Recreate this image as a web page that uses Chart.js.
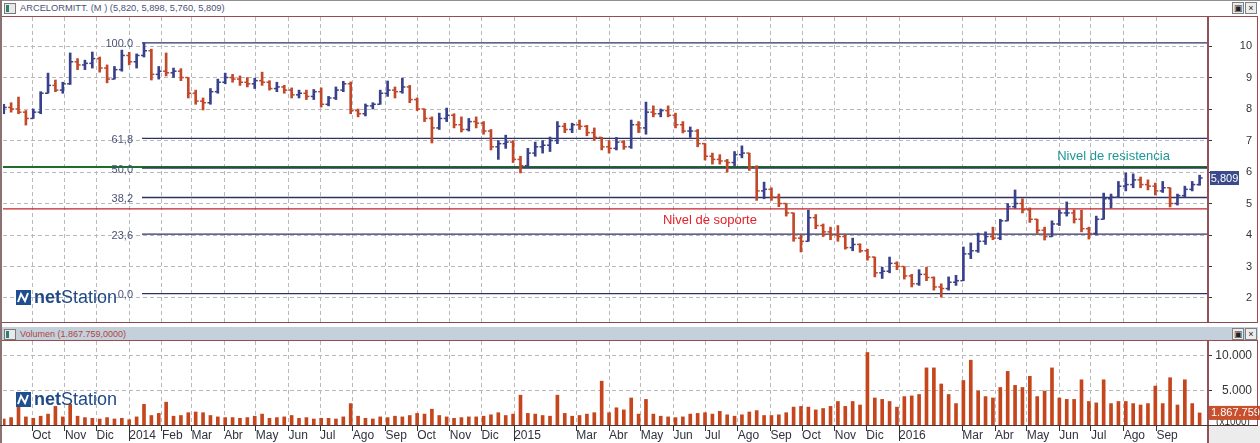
<!DOCTYPE html>
<html>
<head>
<meta charset="utf-8">
<title>ARCELORMITT.</title>
<script src="https://cdn.jsdelivr.net/npm/chart.js@4.4.1/dist/chart.umd.min.js"></script>
<style>
  body { margin: 0; background: #fff; font-family: "Liberation Sans", Arial, sans-serif; }
  #wrap { position: relative; width: 1260px; height: 443px; overflow: hidden; background: #fff; }
  #wrap div, #wrap canvas { position: absolute; }
  .hdr { font-size: 9.3px; line-height: 12px; white-space: nowrap; }
  .win { width: 10px; height: 9px; border: 1px solid #7a7a7a; background: #e9e9e9; }
  .win i { position: absolute; left: 1px; top: 1px; width: 3px; height: 7px; background: #2f7f72; }
  .btn { width: 10px; height: 10px; border: 1px solid #808080; background: #ececec; font-size: 9px; line-height: 10px; text-align: center; color: #222; }
  .logo { font-size: 18px; line-height: 18px; color: #1f4a87; white-space: nowrap; }
  .logo svg { vertical-align: -2px; margin-right: 3px; }
</style>
</head>
<body>
<div id="wrap">
  <!-- price pane header -->
  <div style="left:0;top:0;width:1260px;height:1px;background:#8f8f8f"></div>
  <div class="win" style="left:4px;top:3px"><i></i></div>
  <div class="hdr" style="left:20px;top:2px;color:#4b5376">ARCELORMITT. (M ) (5,820, 5,898, 5,760, 5,809)</div>
  <div class="btn" style="left:1232px;top:2px">&#9635;</div>
  <div class="btn" style="left:1245px;top:2px">&#215;</div>
  <div style="left:0;top:16px;width:1258px;height:1px;background:#9b4b50"></div>

  <canvas id="price" width="1260" height="305" style="left:0;top:17px"></canvas>

  <!-- volume pane header -->
  <div style="left:0;top:322px;width:1258px;height:1px;background:#8a4a50"></div>
  <div style="left:2px;top:327px;width:1256px;height:13px;background:#c4d0dc;border-bottom:1px solid #9b4b50"></div>
  <div class="win" style="left:4px;top:329px"><i></i></div>
  <div class="hdr" style="left:20px;top:328px;font-size:9px;color:#b0463a" id="volTitle"></div>
  <div class="btn" style="left:1232px;top:328px">&#9635;</div>
  <div class="btn" style="left:1245px;top:328px">&#215;</div>

  <canvas id="vol" width="1260" height="102" style="left:0;top:341px"></canvas>

  <!-- frame lines -->
  <div style="left:0;top:0;width:2px;height:443px;background:#8a7272"></div>
  <div style="left:1207px;top:17px;width:2px;height:305px;background:#93505a"></div>
  <div style="left:1257px;top:16px;width:1px;height:307px;background:#9b4b50"></div>
  <div style="left:1207px;top:341px;width:2px;height:102px;background:#93505a"></div>
  <div style="left:1257px;top:340px;width:1px;height:86px;background:#9b4b50"></div>
  <div style="left:0;top:425px;width:1258px;height:1px;background:#4a3434"></div>
  <div style="left:1209px;top:426px;width:51px;height:17px;background:#ececec"></div>

  <!-- watermark logos -->
  <div class="logo" style="left:16px;top:288px"><svg width="15" height="15"><rect width="15" height="15" fill="#1f4f90"/><polyline points="2,12 5,4 9,11 12,3" stroke="#fff" stroke-width="2" fill="none"/></svg><b>net</b>Station</div>
  <div class="logo" style="left:16px;top:390px"><svg width="15" height="15"><rect width="15" height="15" fill="#1f4f90"/><polyline points="2,12 5,4 9,11 12,3" stroke="#fff" stroke-width="2" fill="none"/></svg><b>net</b>Station</div>
</div>

<script>
// weekly bars, week 0 = 2 Sep 2013
const opens = [7.95, 8.05, 8.0, 7.9, 7.7, 7.9, 8.5, 8.75, 8.6, 8.8,
  9.5, 9.4, 9.45, 9.6, 9.3, 8.95, 9.25, 9.7, 9.5, 9.7,
  9.85, 9.1, 9.2, 9.15, 9.2, 9.0, 8.5, 8.25, 8.2, 8.55,
  8.85, 9.0, 8.95, 8.85, 8.8, 8.9, 8.85, 8.65, 8.7, 8.6,
  8.45, 8.5, 8.4, 8.55, 8.15, 8.35, 8.6, 8.8, 7.95, 7.85,
  8.1, 8.15, 8.5, 8.6, 8.55, 8.7, 8.3, 8.0, 7.7, 7.4,
  7.7, 7.8, 7.5, 7.35, 7.6, 7.55, 7.3, 6.8, 6.9, 6.95,
  6.4, 6.2, 6.6, 6.8, 6.85, 7.0, 7.45, 7.35, 7.5, 7.45,
  7.25, 7.1, 6.8, 6.75, 6.95, 6.8, 7.5, 7.4, 7.9, 7.85,
  7.95, 7.8, 7.5, 7.3, 7.3, 6.9, 6.5, 6.4, 6.35, 6.3,
  6.55, 6.6, 6.15, 5.4, 5.45, 5.2, 5.0, 4.7, 3.9, 3.8,
  4.55, 4.3, 4.1, 4.0, 3.95, 3.6, 3.7, 3.5, 3.3, 2.8,
  2.85, 3.1, 3.0, 2.7, 2.45, 2.75, 2.65, 2.35, 2.3, 2.5,
  2.55, 3.4, 3.5, 3.8, 3.95, 3.9, 4.45, 4.9, 5.0, 4.8,
  4.5, 4.15, 3.95, 4.35, 4.7, 4.7, 4.5, 4.2, 4.05, 4.5,
  5.15, 5.2, 5.55, 5.6, 5.75, 5.6, 5.55, 5.4, 5.5, 5.0,
  5.25, 5.45, 5.6];
const highs = [8.15, 8.2, 8.38, 7.95, 8.0, 8.55, 9.14, 8.92, 8.85, 9.78,
  9.6, 9.55, 9.81, 9.65, 9.4, 9.35, 9.87, 9.8, 9.75, 10.1,
  9.9, 9.35, 9.78, 9.3, 9.28, 9.0, 8.6, 8.35, 8.65, 8.95,
  9.14, 9.1, 9.05, 9.0, 8.98, 9.17, 8.9, 8.85, 8.75, 8.67,
  8.6, 8.6, 8.62, 8.67, 8.4, 8.7, 8.88, 8.86, 8.0, 8.16,
  8.2, 8.6, 8.89, 8.7, 8.98, 8.75, 8.35, 8.0, 7.75, 7.87,
  8.03, 7.85, 7.75, 7.7, 7.75, 7.6, 7.35, 7.0, 7.17, 7.0,
  6.5, 6.75, 6.95, 7.0, 7.11, 7.6, 7.55, 7.55, 7.65, 7.48,
  7.4, 7.1, 7.0, 7.1, 7.0, 7.65, 7.6, 8.22, 8.1, 8.0,
  8.1, 7.87, 7.6, 7.43, 7.35, 6.9, 6.6, 6.55, 6.4, 6.65,
  6.83, 6.6, 6.2, 5.68, 5.5, 5.3, 5.0, 4.7, 4.0, 4.79,
  4.65, 4.35, 4.25, 4.3, 4.0, 3.9, 3.72, 3.55, 3.3, 2.98,
  3.3, 3.15, 3.0, 2.75, 2.9, 2.98, 2.67, 2.45, 2.67, 2.72,
  3.62, 3.75, 4.06, 4.1, 4.25, 4.5, 5.0, 5.43, 5.15, 4.86,
  4.5, 4.25, 4.45, 4.8, 5.05, 4.8, 4.79, 4.25, 4.6, 5.33,
  5.3, 5.7, 5.97, 5.94, 5.84, 5.75, 5.65, 5.7, 5.5, 5.3,
  5.55, 5.7, 5.9];
const lows = [7.85, 7.9, 7.85, 7.49, 7.7, 7.85, 8.5, 8.55, 8.5, 8.78,
  9.25, 9.25, 9.3, 9.17, 8.83, 8.95, 9.2, 9.4, 9.3, 9.65,
  8.92, 8.95, 9.05, 9.0, 8.9, 8.35, 8.15, 7.97, 8.15, 8.5,
  8.8, 8.85, 8.75, 8.7, 8.65, 8.75, 8.6, 8.55, 8.5, 8.35,
  8.35, 8.3, 8.3, 8.06, 8.1, 8.3, 8.55, 7.85, 7.75, 7.78,
  8.0, 8.15, 8.4, 8.35, 8.5, 8.2, 7.95, 7.6, 6.92, 7.35,
  7.6, 7.4, 7.27, 7.3, 7.4, 7.2, 6.7, 6.4, 6.75, 6.3,
  5.97, 6.15, 6.5, 6.6, 6.65, 6.9, 7.25, 7.25, 7.35, 7.15,
  7.0, 6.7, 6.6, 6.7, 6.72, 6.75, 7.25, 7.2, 7.75, 7.75,
  7.75, 7.4, 7.24, 7.1, 6.8, 6.38, 6.25, 6.25, 6.0, 6.2,
  6.45, 6.05, 5.1, 5.15, 5.1, 4.9, 4.6, 3.8, 3.46, 3.8,
  4.2, 3.95, 3.85, 3.8, 3.55, 3.5, 3.45, 3.2, 2.67, 2.62,
  2.8, 2.9, 2.6, 2.35, 2.4, 2.55, 2.25, 2.03, 2.25, 2.4,
  2.55, 3.25, 3.45, 3.7, 3.85, 3.85, 4.45, 4.85, 4.7, 4.4,
  4.05, 3.84, 3.95, 4.3, 4.6, 4.38, 4.1, 3.87, 4.0, 4.5,
  4.86, 5.2, 5.4, 5.5, 5.5, 5.43, 5.27, 5.35, 4.89, 4.95,
  5.2, 5.4, 5.58];
const closes = [8.05, 8.0, 7.9, 7.7, 7.9, 8.5, 8.75, 8.6, 8.8, 9.5,
  9.4, 9.45, 9.6, 9.3, 8.95, 9.25, 9.7, 9.5, 9.7, 9.85,
  9.1, 9.2, 9.15, 9.2, 9.0, 8.5, 8.25, 8.2, 8.55, 8.85,
  9.0, 8.95, 8.85, 8.8, 8.9, 8.85, 8.65, 8.7, 8.6, 8.45,
  8.5, 8.4, 8.55, 8.15, 8.35, 8.6, 8.8, 7.95, 7.85, 8.1,
  8.15, 8.5, 8.6, 8.55, 8.7, 8.3, 8.0, 7.7, 7.4, 7.7,
  7.8, 7.5, 7.35, 7.6, 7.55, 7.3, 6.8, 6.9, 6.95, 6.4,
  6.2, 6.6, 6.8, 6.85, 7.0, 7.45, 7.35, 7.5, 7.45, 7.25,
  7.1, 6.8, 6.75, 6.95, 6.8, 7.5, 7.4, 7.9, 7.85, 7.95,
  7.8, 7.5, 7.3, 7.3, 6.9, 6.5, 6.4, 6.35, 6.3, 6.55,
  6.6, 6.15, 5.4, 5.45, 5.2, 5.0, 4.7, 3.9, 3.8, 4.55,
  4.3, 4.1, 4.0, 3.95, 3.6, 3.7, 3.5, 3.3, 2.8, 2.85,
  3.1, 3.0, 2.7, 2.45, 2.75, 2.65, 2.35, 2.3, 2.5, 2.55,
  3.4, 3.5, 3.8, 3.95, 3.9, 4.45, 4.9, 5.0, 4.8, 4.5,
  4.15, 3.95, 4.35, 4.7, 4.7, 4.5, 4.2, 4.05, 4.5, 5.15,
  5.2, 5.55, 5.6, 5.75, 5.6, 5.55, 5.4, 5.5, 5.0, 5.25,
  5.45, 5.6, 5.809];
// volume in thousands of shares
const volumes = [1000, 1200, 2800, 1300, 1100, 1400, 1700, 2800, 1300, 3100,
  1400, 1200, 1100, 1000, 1200, 1000, 1100, 900, 1300, 3100,
  1500, 1800, 3400, 1400, 1500, 1900, 2000, 1900, 1500, 1300,
  1200, 1200, 1100, 1200, 1400, 1700, 1100, 1200, 1300, 1500,
  1100, 1200, 1000, 1100, 1100, 1000, 1300, 3200, 1400, 1100,
  1000, 1300, 1200, 1400, 1300, 1500, 1800, 1700, 2400, 1500,
  1300, 1100, 1200, 1300, 1300, 1400, 1600, 1900, 1500, 1700,
  4400, 1800, 1700, 1500, 1400, 4400, 1800, 1400, 1500, 1700,
  1900, 6400, 1900, 2600, 2300, 4000, 1700, 3800, 1700, 1400,
  1300, 1200, 1300, 1700, 1800, 1900, 1700, 2100, 1600, 1400,
  1600, 2000, 2200, 1500, 1500, 1600, 1900, 2700, 2800, 2700,
  2300, 2500, 2800, 3500, 2800, 3500, 3000, 10500, 4000, 3800,
  3500, 2700, 4200, 4300, 4500, 8300, 8300, 6000, 4500, 3200,
  6500, 9400, 5000, 4200, 4000, 5500, 7800, 5800, 5500, 7100,
  4200, 5000, 8300, 4000, 3800, 3800, 6600, 3500, 3300, 6600,
  3200, 3500, 3500, 3200, 3000, 3200, 5700, 3200, 6900, 3000,
  6600, 3200, 1867.759];

// month ticks from Oct 2013 to Oct 2016
const monthLabels = ['Oct', 'Nov', 'Dic', '2014', 'Feb', 'Mar', 'Abr', 'May', 'Jun', 'Jul', 'Ago', 'Sep',
  'Oct', 'Nov', 'Dic', '2015', '', 'Mar', 'Abr', 'May', 'Jun', 'Jul', 'Ago', 'Sep',
  'Oct', 'Nov', 'Dic', '2016', '', 'Mar', 'Abr', 'May', 'Jun', 'Jul', 'Ago', 'Sep', ''];
const priceTicks = [1.5, 2, 2.5, 3, 3.5, 4, 4.5, 5, 5.5, 6, 6.5, 7, 7.5, 8, 8.5, 9, 9.5, 10, 10.5];
const volumeTicks = [2500, 5000, 7500, 10000];

// fibonacci retracement and support / resistance levels
const fibLevels = [10.10, 7.07, 6.12, 5.19, 4.03, 2.14];
const fibLabels = ['100.0', '61,8', '50,0', '38,2', '23,6', '0,0'];
const fibStartWeek = 18.73;
const resistance = 6.16;
const support = 4.83;
const resistanceTextWeek = 142.7;
const supportTextWeek = 89.3;

const xMin = -0.1, xMax = 163;
const weekZero = Date.UTC(2013, 8, 2);
const monthTicks = monthLabels.map((_, i) => (Date.UTC(2013, 9 + i, 1) - weekZero) / 864e5 / 7 - 2 / 7);

const upColor = '#39418b', downColor = '#c2482a', gridColor = '#b9b9b9';
const barColors = closes.map((c, i) => c >= opens[i] ? upColor : downColor);
const fontFamily = '"Liberation Sans", Arial, sans-serif';
Chart.defaults.font.family = fontFamily;

const thousands = n => String(Math.round(n)).replace(/\B(?=(\d{3})+(?!\d))/g, '.');
const lastVolumeText = thousands(volumes[volumes.length - 1] * 1000);
document.getElementById('volTitle').textContent = 'Volumen (' + lastVolumeText + ',0000)';

function xAxis(withLabels) {
  return {
    type: 'linear', min: xMin, max: xMax, offset: false,
    afterBuildTicks: s => { s.ticks = monthTicks.map(v => ({ value: v })); },
    afterFit: s => { s.height = withLabels ? 17 : 0; s.paddingLeft = 0; s.paddingRight = 0; },
    grid: { offset: false, color: gridColor, lineWidth: 1, drawTicks: withLabels, tickLength: 5, tickColor: '#333' },
    border: { display: false, dash: [4, 3] },
    ticks: {
      display: withLabels, autoSkip: false, maxRotation: 0, align: 'start', padding: -3,
      color: '#30333f', font: { size: 12 },
      callback: (v, i) => monthLabels[i] || null
    }
  };
}

function yAxis(tickValues, min, max, isLabel, fontSize) {
  return {
    position: 'right', min: min, max: max,
    afterBuildTicks: s => { s.ticks = tickValues.map(v => ({ value: v })); },
    afterFit: s => { s.width = 45; s.paddingTop = 0; s.paddingBottom = 0; },
    grid: {
      color: c => (c.tick && isLabel(c.tick.value)) ? gridColor : 'rgba(0,0,0,0)',
      tickColor: '#333', tickLength: 5
    },
    border: { display: false, dash: [4, 3] },
    ticks: {
      autoSkip: false, crossAlign: 'far', padding: 0,
      color: '#333', font: { size: fontSize },
      callback: v => isLabel(v) ? (v >= 1000 ? thousands(v) : String(v)) : null
    }
  };
}

const pricePlugin = {
  id: 'priceNotes',
  afterDraw(chart) {
    const { ctx, chartArea, scales: { x, y } } = chart;
    ctx.save();
    ctx.font = '11px "Liberation Sans Narrow", "Liberation Sans", sans-serif';
    ctx.fillStyle = '#4b5376';
    ctx.textAlign = 'right';
    ctx.textBaseline = 'middle';
    const lx = x.getPixelForValue(fibStartWeek) - 9;
    fibLevels.forEach((v, i) => ctx.fillText(fibLabels[i], lx, y.getPixelForValue(v) + 1.5));
    ctx.font = '13px ' + fontFamily;
    ctx.textAlign = 'left';
    ctx.fillStyle = '#1f9796';
    ctx.fillText('Nivel de resistencia', x.getPixelForValue(resistanceTextWeek), y.getPixelForValue(resistance) - 11);
    ctx.fillStyle = '#e3202b';
    ctx.fillText('Nivel de soporte', x.getPixelForValue(supportTextWeek), y.getPixelForValue(support) + 12);
    const last = closes[closes.length - 1];
    const py = y.getPixelForValue(last);
    ctx.fillStyle = '#3b4a8b';
    ctx.fillRect(chartArea.right + 3, py - 7, 29, 14);
    ctx.fillStyle = '#fff';
    ctx.font = '11px ' + fontFamily;
    ctx.textAlign = 'center';
    ctx.fillText(last.toFixed(3).replace('.', ','), chartArea.right + 17.5, py + 0.5);
    ctx.restore();
  }
};

const volPlugin = {
  id: 'volNotes',
  afterDraw(chart) {
    const { ctx, chartArea, scales: { x, y } } = chart;
    ctx.save();
    ctx.strokeStyle = '#333';
    ctx.lineWidth = 1;
    monthLabels.forEach((lab, i) => {
      if (/^\d{4}$/.test(lab)) {
        const px = Math.round(x.getPixelForValue(monthTicks[i])) + 0.5;
        ctx.beginPath();
        ctx.moveTo(px, chartArea.bottom);
        ctx.lineTo(px, chart.height - 2);
        ctx.stroke();
      }
    });
    const vy = y.getPixelForValue(volumes[volumes.length - 1]);
    ctx.textBaseline = 'middle';
    ctx.font = '10px ' + fontFamily;
    ctx.fillStyle = '#333';
    ctx.textAlign = 'center';
    ctx.fillText('(x1000)', chartArea.right + 26, vy + 9);
    ctx.fillStyle = '#c8502c';
    ctx.fillRect(chartArea.right + 2, vy - 7, 51, 14);
    ctx.fillStyle = '#fff';
    ctx.font = '11px ' + fontFamily;
    ctx.textAlign = 'left';
    ctx.fillText(lastVolumeText, chartArea.right + 4, vy + 0.5);
    ctx.restore();
  }
};

function level(y, x0, color, width) {
  return { type: 'line', data: [{ x: x0, y: y }, { x: xMax, y: y }], borderColor: color, borderWidth: width, pointRadius: 0, order: 10 };
}

const weeks = closes.map((_, i) => i);

new Chart(document.getElementById('price'), {
  type: 'bar',
  data: {
    datasets: [
      ...fibLevels.map(v => level(v, fibStartWeek, '#2c3262', 1.3)),
      level(resistance, xMin, '#1d6e2e', 2),
      level(support, xMin, '#c4222b', 1.4),
      { type: 'bar', data: weeks.map(i => ({ x: i, y: [lows[i], highs[i]] })), backgroundColor: barColors, barThickness: 2, order: 2 },
      { type: 'line', showLine: false, data: weeks.map(i => ({ x: i, y: opens[i] })), pointStyle: 'dash', pointRotation: 180,
        pointRadius: 3, pointBorderWidth: 1.5, pointBorderColor: barColors, order: 1 },
      { type: 'line', showLine: false, data: weeks.map(i => ({ x: i, y: closes[i] })), pointStyle: 'dash', pointRotation: 0,
        pointRadius: 3, pointBorderWidth: 1.5, pointBorderColor: barColors, order: 1 }
    ]
  },
  options: {
    responsive: false, animation: false, events: [], devicePixelRatio: 1,
    layout: { autoPadding: false, padding: { left: 3, right: 8, top: 0, bottom: 0 } },
    plugins: { legend: { display: false }, tooltip: { enabled: false } },
    scales: {
      x: xAxis(false),
      y: yAxis(priceTicks, 1.238, 10.921, v => Number.isInteger(v), 11)
    }
  },
  plugins: [pricePlugin]
});

new Chart(document.getElementById('vol'), {
  type: 'bar',
  data: {
    datasets: [{ data: weeks.map(i => ({ x: i, y: volumes[i] })), backgroundColor: '#c5461d', barThickness: 3 }]
  },
  options: {
    responsive: false, animation: false, events: [], devicePixelRatio: 1,
    layout: { autoPadding: false, padding: { left: 3, right: 8, top: 0, bottom: 0 } },
    plugins: { legend: { display: false }, tooltip: { enabled: false } },
    scales: {
      x: xAxis(true),
      y: yAxis(volumeTicks, 0, 12140, v => v % 5000 === 0, 12)
    }
  },
  plugins: [volPlugin]
});
</script>
</body>
</html>
